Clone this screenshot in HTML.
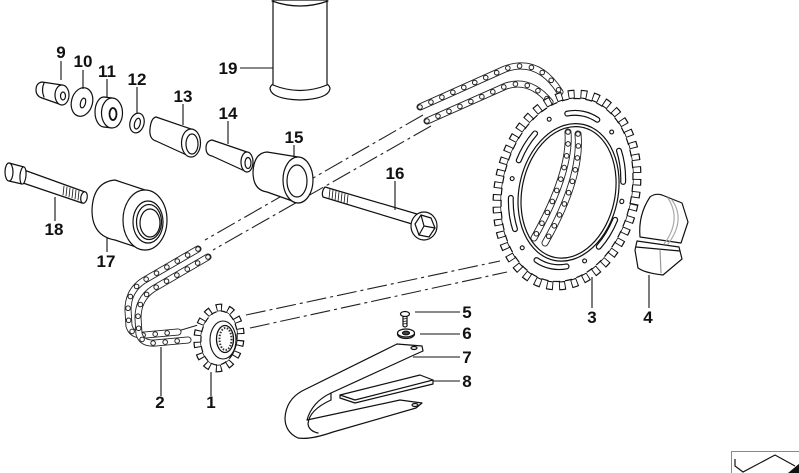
<!DOCTYPE html>
<html><head><meta charset="utf-8"><style>
html,body{margin:0;padding:0;background:#fff;}
svg{display:block}
text{font-family:"Liberation Sans",Arial,sans-serif;font-weight:bold;font-size:17px;fill:#111;text-anchor:middle}
.ca{stroke:#222;stroke-width:7;fill:none;stroke-linejoin:round;stroke-linecap:round}
.cb{stroke:#fff;stroke-width:5.2;fill:none;stroke-linejoin:round;stroke-linecap:round}
.ra{stroke:#222;stroke-width:5.6;fill:none;stroke-dasharray:0 12;stroke-linecap:round}
.rb{stroke:#fff;stroke-width:3.6;fill:none;stroke-dasharray:0 12;stroke-linecap:round}
.dl{stroke:#222;stroke-width:1.1;fill:none;stroke-dasharray:20 4 3 4}
</style></head><body>
<svg width="799" height="473" viewBox="0 0 799 473" xmlns="http://www.w3.org/2000/svg">

<!-- dash-dot chain lines -->
<path class="dl" d="M246,315 L500,261"/>
<path class="dl" d="M250,328 L507,272"/>
<path class="dl" d="M423,115 L205,240"/>
<path class="dl" d="M431,126 L213,250"/>
<path class="dl" d="M178,331 L198,325"/>

<!-- upper chain -->
<g>
<path class="ca" d="M420,107 L505,69 Q538,57 560,92"/>
<path class="cb" d="M420,107 L505,69 Q538,57 560,92"/>
<path class="ra" d="M420,107 L505,69 Q538,57 560,92"/>
<path class="rb" d="M420,107 L505,69 Q538,57 560,92"/>
<path class="ca" d="M427,121 L506,86 Q530,78 550,102"/>
<path class="cb" d="M427,121 L506,86 Q530,78 550,102"/>
<path class="ra" d="M427,121 L506,86 Q530,78 550,102"/>
<path class="rb" d="M427,121 L506,86 Q530,78 550,102"/>
</g>

<!-- lower chain -->
<g>
<path class="ca" d="M198,249 L143,281 Q128,291 128,310 L129,326 Q132,336 145,335 L178,332"/>
<path class="cb" d="M198,249 L143,281 Q128,291 128,310 L129,326 Q132,336 145,335 L178,332"/>
<path class="ra" d="M198,249 L143,281 Q128,291 128,310 L129,326 Q132,336 145,335 L178,332"/>
<path class="rb" d="M198,249 L143,281 Q128,291 128,310 L129,326 Q132,336 145,335 L178,332"/>
<path class="ca" d="M208,257 L153,289 Q138,299 138,318 L139,334 Q142,344 155,343 L188,340"/>
<path class="cb" d="M208,257 L153,289 Q138,299 138,318 L139,334 Q142,344 155,343 L188,340"/>
<path class="ra" d="M208,257 L153,289 Q138,299 138,318 L139,334 Q142,344 155,343 L188,340"/>
<path class="rb" d="M208,257 L153,289 Q138,299 138,318 L139,334 Q142,344 155,343 L188,340"/>
</g>

<!-- sprocket 3 -->
<g transform="translate(567,190) rotate(12)">
  <ellipse rx="68.5" ry="97" fill="none" stroke="#111" stroke-width="9" pathLength="84" stroke-dasharray="1.05 0.95"/>
  <ellipse rx="68.5" ry="97" fill="none" stroke="#fff" stroke-width="6.6" pathLength="84" stroke-dasharray="0.75 1.25" stroke-dashoffset="-0.15"/>
  <ellipse rx="64.5" ry="92.5" fill="#fff" stroke="none"/>
  <ellipse rx="64.5" ry="92.5" fill="none" stroke="#111" stroke-width="1.2" pathLength="84" stroke-dasharray="1.2 0.8" stroke-dashoffset="-0.9"/>
  <ellipse rx="55" ry="78" fill="none" stroke="#111" stroke-width="6" pathLength="60" stroke-dasharray="4.5 5.5" stroke-dashoffset="-2.75" stroke-linecap="round"/>
  <ellipse rx="55" ry="78" fill="none" stroke="#fff" stroke-width="3.6" pathLength="60" stroke-dasharray="4.5 5.5" stroke-dashoffset="-2.75" stroke-linecap="round"/>
  <ellipse rx="56" ry="80" fill="none" stroke="#111" stroke-width="5" pathLength="60" stroke-dasharray="0 10" stroke-linecap="round"/>
  <ellipse rx="56" ry="80" fill="none" stroke="#fff" stroke-width="2.8" pathLength="60" stroke-dasharray="0 10" stroke-linecap="round"/>
  <ellipse cx="2" cy="2" rx="49.5" ry="69.5" fill="none" stroke="#111" stroke-width="1.2"/>
  <ellipse cx="2" cy="2" rx="46.5" ry="66.5" fill="#fff" stroke="#111" stroke-width="1.2"/>
</g>

<!-- chain seen through sprocket -->
<path class="ca" d="M578,134 Q582,178 545,243"/>
<path class="cb" d="M578,134 Q582,178 545,243"/>
<path class="ra" d="M578,134 Q582,178 545,243"/>
<path class="rb" d="M578,134 Q582,178 545,243"/>
<path class="ca" d="M568,132 Q571,172 534,238"/>
<path class="cb" d="M568,132 Q571,172 534,238"/>
<path class="ra" d="M568,132 Q571,172 534,238"/>
<path class="rb" d="M568,132 Q571,172 534,238"/>

<!-- sprocket 1 -->
<g transform="translate(219,338) rotate(6)">
  <ellipse rx="21.5" ry="30.5" fill="none" stroke="#111" stroke-width="8" pathLength="28" stroke-dasharray="1.0 1.0"/>
  <ellipse rx="21.5" ry="30.5" fill="none" stroke="#fff" stroke-width="5.6" pathLength="28" stroke-dasharray="0.65 1.35" stroke-dashoffset="-0.175"/>
  <ellipse rx="18" ry="27" fill="#fff" stroke="none"/>
  <ellipse rx="18" ry="27" fill="none" stroke="#111" stroke-width="1.2" pathLength="28" stroke-dasharray="1.2 0.8" stroke-dashoffset="-0.85"/>
</g>
<g fill="#fff" stroke="#111">
  <ellipse cx="223" cy="340" rx="13" ry="19" stroke-width="1.1"/>
  <ellipse cx="225" cy="339" rx="8.5" ry="13.5" stroke-width="1.3"/>
  <ellipse cx="225.5" cy="339" rx="6" ry="11" fill="none" stroke="#333" stroke-width="2" stroke-dasharray="1.5 1.5"/>
</g>

<g fill="#fff" stroke="#111" stroke-width="1.2" stroke-linejoin="round" stroke-linecap="round">
<!-- part 19 -->
<path d="M273,0 L273,84 Q270,86 270,89 Q272,99 300,100 Q328,99 330,89 Q330,86 327,84 L327,0 Z"/>
<path fill="none" d="M272,1 Q300,11 328,1"/>
<path fill="none" d="M273,85 Q300,96 327,85"/>

<!-- part 9 -->
<path d="M42,82 L62,85 L62,105 L42,98 Q36,96 36,90 Q36,83 42,82 Z"/>
<path fill="none" d="M44,83 Q41,90 44,97"/>
<ellipse cx="62" cy="95" rx="7" ry="10"/>
<ellipse cx="63" cy="96" rx="2.5" ry="4"/>

<!-- part 10 -->
<ellipse cx="82" cy="102" rx="10.5" ry="14.5" transform="rotate(15 82 102)"/>
<ellipse cx="83" cy="103" rx="2.5" ry="5" transform="rotate(15 83 103)"/>

<!-- part 11 -->
<ellipse cx="104" cy="112" rx="9" ry="15"/>
<path d="M104,97 L112,98 L112,128 L104,127 Z" stroke="none"/>
<path fill="none" d="M104,97 L112,98 M104,127 L112,128"/>
<ellipse cx="112" cy="113" rx="10.5" ry="15"/>
<ellipse cx="113" cy="114" rx="3.5" ry="6" stroke-width="1.8"/>

<!-- part 12 -->
<ellipse cx="137" cy="123" rx="7" ry="10" transform="rotate(15 137 123)"/>
<ellipse cx="137.5" cy="123.5" rx="2.8" ry="5.5" transform="rotate(15 137 123)"/>

<!-- part 13 -->
<path d="M156,117 L191,129 L191,157 L156,141 Q149,139 150,129 Q151,118 156,117 Z"/>
<ellipse cx="191" cy="143" rx="9.5" ry="14"/>
<ellipse cx="192" cy="144" rx="6" ry="10"/>

<!-- part 14 -->
<path d="M212,140 L247,152 L247,172 L212,156 Q206,155 206,148 Q206,141 212,140 Z"/>
<ellipse cx="247" cy="162" rx="6" ry="10"/>
<ellipse cx="248" cy="163" rx="3" ry="5.5"/>

<!-- part 15 -->
<path d="M267,152 L298,157 L298,203 L267,192 Q253,190 253,172 Q254,153 267,152 Z"/>
<ellipse cx="298" cy="180" rx="15" ry="23"/>
<ellipse cx="297" cy="181" rx="10" ry="16"/>

<!-- part 17 -->
<path d="M115,180 L145,190 L145,250 L115,240 Q92,236 92,210 Q93,182 115,180 Z"/>
<ellipse cx="145" cy="220" rx="22" ry="30"/>
<ellipse cx="148" cy="222" rx="15" ry="21"/>
<ellipse cx="149" cy="222" rx="12.5" ry="17.5"/>
<ellipse cx="150" cy="223" rx="10" ry="14"/>

<!-- part 18 -->
<path d="M24,170 L85,192 L82,203 L23,183 Z"/>
<ellipse cx="84" cy="197.5" rx="3.2" ry="5.8" transform="rotate(10 84 197.5)"/>
<path d="M9,163 L24,167 L22,184 L9,181 Z"/>
<ellipse cx="23" cy="175.5" rx="3" ry="8.6" transform="rotate(5 23 175.5)"/>
<ellipse cx="9" cy="172" rx="4" ry="9"/>
<path fill="none" stroke-width="0.8" d="M64,186 L63,195 M67,187 L66,196 M70,188 L69,197 M73,189 L72,198 M76,190 L75,199 M79,191 L78,200"/>

<!-- part 16 -->
<path d="M325,187 L417,214 L412,224 L323,197 Q321,192 325,187 Z"/>
<path fill="none" stroke-width="0.8" d="M330,189 L329,198.5 M333,190 L332,199.5 M336,191 L335,200.5 M339,192 L338,201.5 M342,193 L341,202.5 M345,194 L344,203.5 M348,195 L347,204.5"/>
<ellipse cx="424" cy="226" rx="13" ry="14"/>
<polygon points="421,215 431,218 435,228 429,237 419,235 415,224"/>
<path fill="none" d="M421,215 L424,226 L435,228 M424,226 L419,235"/>

<!-- part 4 -->
<path d="M637,241 L679,247 L682,259 L663,275 Q645,273 638,268 L635,250 Z"/>
<path fill="none" d="M636,247 L680,251"/>
<path fill="none" stroke="#999" d="M660,250 L661,273"/>
<path d="M650,197 Q655,193 662,195 L682,203 L688,222 L681,243 L640,237 Q638,215 650,197 Z"/>
<path fill="none" stroke="#aaa" d="M668,198 Q682,220 664,244 M672,200 Q686,220 668,244"/>

<!-- part 7 -->
<path d="M397,344 L422,346 L423,351 L414,355 L331,393 Q312,402 307,420 L400,400 L422,403 L416,408 L333,432 Q310,440 298,438 Q285,432 285,418 Q286,400 302,391 Z"/>
<path fill="none" d="M331,393 L331,400 Q309,410 308,424 Q309,431 318,433"/>
<ellipse cx="414" cy="348" rx="3" ry="1.5" fill="#fff"/>
<ellipse cx="415" cy="405" rx="3" ry="1.5" fill="#fff"/>

<!-- part 8 -->
<polygon points="340,395 420,375 433,380 433,384 355,403 340,398"/>
<path fill="none" d="M355,400 L433,380 M355,400 L340,395"/>

<!-- part 5 -->
<path d="M403,316 L407,316 L407,326 Q405,328 403,326 Z"/>
<ellipse cx="405" cy="314" rx="4.5" ry="2.5"/>
<path fill="none" stroke-width="0.7" d="M403,319 L407,318.5 M403,321.5 L407,321 M403,324 L407,323.5"/>

<!-- part 6 -->
<ellipse cx="406" cy="334" rx="8.5" ry="4.5"/>
<ellipse cx="406" cy="333" rx="8.5" ry="4" />
<ellipse cx="406" cy="333" rx="3.5" ry="1.8" fill="#444"/>
</g>

<!-- leader lines -->
<g stroke="#111" stroke-width="1.1" fill="none">
<path d="M61,61 L61,80"/>
<path d="M83,70 L83,89"/>
<path d="M107,79 L107,98"/>
<path d="M137,87 L137,113"/>
<path d="M183,104 L183,125"/>
<path d="M228,121 L228,144"/>
<path d="M294,145 L294,157"/>
<path d="M395,181 L395,210"/>
<path d="M107,238 L107,252"/>
<path d="M55,197 L55,221"/>
<path d="M240,68 L273,68"/>
<path d="M211,372 L211,396"/>
<path d="M161,347 L161,396"/>
<path d="M592,277 L592,308"/>
<path d="M649,275 L649,308"/>
<path d="M415,312 L460,312"/>
<path d="M420,334 L460,334"/>
<path d="M413,357 L460,357"/>
<path d="M433,381 L460,381"/>
</g>

<!-- labels -->
<text x="61" y="58">9</text>
<text x="83" y="67">10</text>
<text x="107" y="77">11</text>
<text x="137" y="85">12</text>
<text x="183" y="102">13</text>
<text x="228" y="119">14</text>
<text x="294" y="143">15</text>
<text x="395" y="179">16</text>
<text x="106" y="267">17</text>
<text x="54" y="235">18</text>
<text x="228" y="74">19</text>
<text x="211" y="408">1</text>
<text x="160" y="408">2</text>
<text x="592" y="323">3</text>
<text x="648" y="323">4</text>
<text x="467" y="318">5</text>
<text x="467" y="339">6</text>
<text x="467" y="363">7</text>
<text x="467" y="387">8</text>

<!-- bottom-right icon -->
<rect x="731.5" y="451.5" width="70" height="30" fill="#fff" stroke="#888" stroke-width="1"/>
<path d="M735,459 L735,466 L743,472 L775,455 L795,466" fill="none" stroke="#111" stroke-width="1.2"/>
<polygon points="788,473 800,463 800,473" fill="#111"/>
</svg>
</body></html>
